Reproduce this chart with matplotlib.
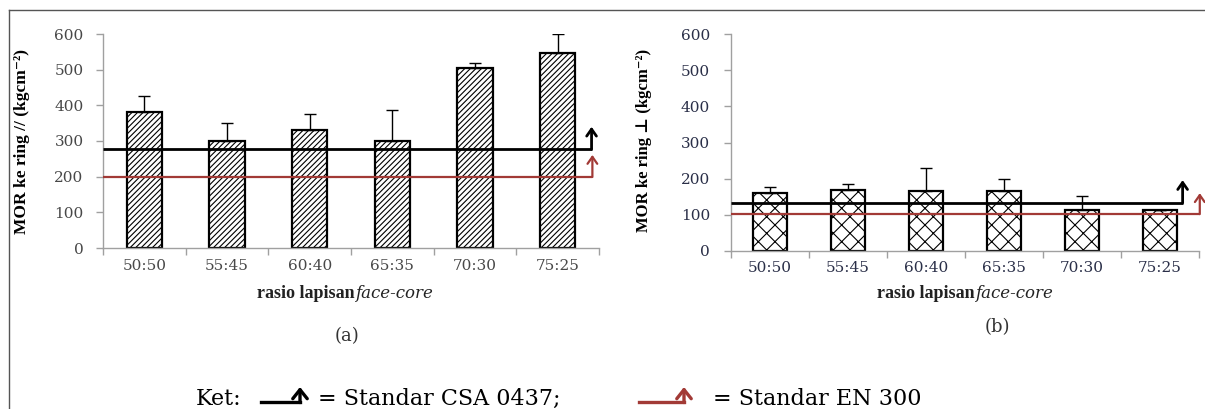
import numpy as np
import matplotlib.pyplot as plt
from matplotlib.lines import Line2D
from matplotlib.patches import FancyArrowPatch

# Data
categories = ['50:50', '55:45', '60:40', '65:35', '70:30', '75:25']
mor_sejajar = [382, 300, 330, 300, 506, 547]   # (a) MOR kering //
err_sejajar = [43, 50, 46, 88, 12, 53]
mor_tegak = [160, 169, 166, 166, 114, 114]     # (b) MOR kering ⊥
err_tegak = [18, 16, 63, 33, 37, 0]

csa_a, en_a = 278, 200   # standar CSA 0437 / EN 300, panel (a)
csa_b, en_b = 134, 103   # panel (b)

W, H = 1205, 409
plt.rcParams['hatch.linewidth'] = 0.8
serif = ['DejaVu Serif']
serif_b = ['Liberation Serif', 'DejaVu Serif']
red = '#A23A36'

fig = plt.figure(figsize=(W / 100, H / 100), dpi=100)


def rect(x0, y0, x1, y1):
    # pixel box -> figure fraction
    return [x0 / W, 1 - y1 / H, (x1 - x0) / W, (y1 - y0) / H]


def fpt(x, y):
    return x / W, 1 - y / H


def panel(box, values, errs, hatch, csa, en, end_csa, end_en, tip_csa, tip_en,
          label_color, xpad, ypad):
    ax = fig.add_axes(box)
    x = np.arange(len(categories))
    ax.bar(x, values, width=0.43, color='white', edgecolor='black', linewidth=1.6,
           hatch=hatch, zorder=2)
    ax.errorbar(x, values, yerr=[np.zeros(len(errs)), errs], fmt='none',
                ecolor='black', elinewidth=1, capsize=4, capthick=1, zorder=3)
    # standard lines with arrows
    ax.plot([-0.5, end_csa], [csa, csa], color='black', lw=2, zorder=4,
            clip_on=False, solid_capstyle='butt')
    ax.plot([-0.5, end_en], [en, en], color=red, lw=1.6, zorder=4,
            clip_on=False, solid_capstyle='butt')
    ax.annotate('', xy=(end_csa, tip_csa), xytext=(end_csa, csa - 1),
                arrowprops=dict(arrowstyle='->,head_length=0.5,head_width=0.35',
                                color='black', lw=2, shrinkA=0, shrinkB=0),
                annotation_clip=False, zorder=5)
    ax.annotate('', xy=(end_en, tip_en), xytext=(end_en, en - 1),
                arrowprops=dict(arrowstyle='->,head_length=0.5,head_width=0.35',
                                color=red, lw=1.6, shrinkA=0, shrinkB=0),
                annotation_clip=False, zorder=5)

    ax.set_xlim(-0.5, len(categories) - 0.5)
    ax.set_ylim(0, 600)
    ax.set_yticks(range(0, 601, 100))
    ax.set_xticks(x)
    ax.set_xticklabels(categories)
    ax.set_xticks(np.arange(-0.5, len(categories)), minor=True)
    for s in ['top', 'right']:
        ax.spines[s].set_visible(False)
    for s in ['left', 'bottom']:
        ax.spines[s].set_color('#A0A0A0')
        ax.spines[s].set_linewidth(1)
    ax.tick_params(axis='x', which='major', length=0, pad=xpad)
    ax.tick_params(axis='x', which='minor', length=5, color='#A0A0A0', width=1)
    ax.tick_params(axis='y', length=5, color='#A0A0A0', width=1, pad=ypad)
    for t in ax.get_xticklabels() + ax.get_yticklabels():
        t.set_family(serif)
        t.set_fontsize(11)
        t.set_color(label_color)
    ax.set_facecolor('none')
    return ax


ax1 = panel(rect(103, 34, 599, 248), mor_sejajar, err_sejajar, '//////',
            csa_a, en_a, 5.41, 5.42, 340, 261, '#484848', 8, 9)
ax2 = panel(rect(731, 34, 1199, 251), mor_tegak, err_tegak, 'xx',
            csa_b, en_b, 5.29, 5.51, 196, 160, '#2A2F48', 7, 10)

# y labels
fig.text(*fpt(22, 142), 'MOR ke ring // (kgcm\u207b\u00b2)', rotation=90,
         ha='center', va='center', fontweight='bold', family=serif_b, fontsize=12.5)
fig.text(*fpt(644, 140), 'MOR ke ring \u22a5 (kgcm\u207b\u00b2)', rotation=90,
         ha='center', va='center', fontweight='bold', family=serif_b, fontsize=12)

# x labels: upright + italic part
for split, yy in [(355, 293), (975, 294)]:
    fig.text(*fpt(split, yy), 'rasio lapisan', ha='right', va='center',
             fontweight='bold', family=serif_b, fontsize=13, color='#222222')
    fig.text(*fpt(split, yy), 'face-core', ha='left', va='center',
             style='italic', family=serif, fontsize=12, color='#222222')

fig.text(*fpt(347, 336), '(a)', ha='center', va='center', family=serif,
         fontsize=13, color='#333333')
fig.text(*fpt(997, 327), '(b)', ha='center', va='center', family=serif,
         fontsize=13, color='#333333')

# keterangan
fig.text(*fpt(196, 399), 'Ket:', ha='left', va='center', family=serif, fontsize=16)
fig.text(*fpt(318, 399), '= Standar CSA 0437;', ha='left', va='center',
         family=serif, fontsize=16)
fig.text(*fpt(713, 399), '= Standar EN 300', ha='left', va='center',
         family=serif, fontsize=16)
for x0, x1, col in [(261, 300, 'black'), (639, 684, red)]:
    fig.add_artist(Line2D([x0 / W, x1 / W], [1 - 402 / H, 1 - 402 / H],
                          transform=fig.transFigure, color=col, lw=2.4))
    fig.add_artist(FancyArrowPatch(fpt(x1, 402.5), fpt(x1, 387),
                                   transform=fig.transFigure,
                                   arrowstyle='->,head_length=0.5,head_width=0.4',
                                   color=col, lw=2.4, mutation_scale=13,
                                   shrinkA=0, shrinkB=0))

# outer frame lines
fig.add_artist(Line2D([9 / W, 1], [1 - 9.5 / H, 1 - 9.5 / H],
                      transform=fig.transFigure, color='#555555', lw=1))
fig.add_artist(Line2D([9 / W, 9 / W], [1 - 9.5 / H, 0],
                      transform=fig.transFigure, color='#555555', lw=1))

fig.savefig('out.png', dpi=100)
